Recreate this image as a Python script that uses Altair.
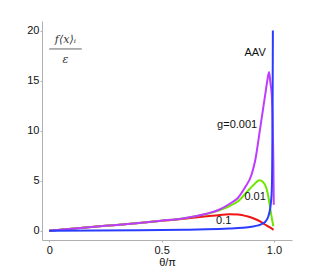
import altair as alt
import pandas as pd

# g = 0.001 (purple)
theta_g0001 = [0, 0.1, 0.2, 0.3, 0.4, 0.5, 0.6, 0.65, 0.7, 0.75, 0.8, 0.84, 0.87, 0.9, 0.916,
               0.938, 0.96, 0.97, 0.978, 0.984, 0.99, 0.994, 0.997, 0.999]
val_g0001 = [0, 0.19, 0.39, 0.58, 0.78, 1.0, 1.25, 1.45, 1.7, 2.05, 2.65, 3.3, 4.3, 5.6, 7.0,
             10.2, 13.5, 15.0, 15.9, 14.8, 13.6, 11.0, 7.0, 2.6]

# g = 0.01 (green)
theta_g001 = [0, 0.1, 0.2, 0.3, 0.4, 0.5, 0.6, 0.65, 0.7, 0.75, 0.8, 0.84, 0.88, 0.91, 0.935,
              0.95, 0.967, 0.975, 0.982, 0.99, 0.997]
val_g001 = [0, 0.19, 0.39, 0.58, 0.78, 1.0, 1.25, 1.45, 1.68, 2.0, 2.45, 2.95, 3.9, 4.6, 5.05,
            4.9, 4.2, 3.4, 2.4, 1.3, 0.45]

# g = 0.1 (red)
theta_g01 = [0, 0.1, 0.2, 0.3, 0.4, 0.5, 0.6, 0.7, 0.76, 0.8, 0.84, 0.88, 0.91, 0.94, 0.96,
             0.98, 0.998]
val_g01 = [0, 0.19, 0.39, 0.58, 0.78, 0.99, 1.2, 1.45, 1.58, 1.64, 1.63, 1.45, 1.22, 0.9, 0.62,
           0.35, 0.08]

# AAV (blue)
theta_aav = [0, 0.2, 0.4, 0.6, 0.7, 0.8, 0.86, 0.9, 0.93, 0.95, 0.965, 0.975, 0.982, 0.987,
             0.99, 0.992, 0.993, 0.994, 0.995]
val_aav = [0.0, 0.02, 0.05, 0.1, 0.14, 0.22, 0.3, 0.4, 0.53, 0.72, 1.0, 1.45, 2.1, 3.0,
           4.0, 6.5, 10.0, 14.0, 20.05]

series_colors = ["#f01414", "#6ee600", "#be3cff", "#2a3cff"]

label_text = ["AAV", "g=0.001", "0.01", "0.1"]
label_theta = [0.916, 0.836, 0.916, 0.776]
label_val = [17.8, 10.6, 3.4, 0.97]

X_DOM = [-0.032, 1.08]
Y_DOM = [-0.93, 21]

xs = alt.Scale(domain=X_DOM, nice=False, zero=False)
ys = alt.Scale(domain=Y_DOM, nice=False, zero=False)


def line_layer(th, vals, color, with_axes=False):
    df = pd.DataFrame({"theta": th, "val": vals, "order": list(range(len(th)))})
    if with_axes:
        xenc = alt.X("theta:Q", scale=xs, title="θ/π",
                     axis=alt.Axis(values=[0, 0.5, 1.0],
                                   labelExpr="datum.value == 0 ? '0' : format(datum.value, '.1f')"))
        yenc = alt.Y("val:Q", scale=ys, title=None,
                     axis=alt.Axis(values=[0, 5, 10, 15, 20]))
    else:
        xenc = alt.X("theta:Q", scale=xs)
        yenc = alt.Y("val:Q", scale=ys)
    return alt.Chart(df).mark_line(color=color, strokeWidth=2, clip=True,
                                   interpolate="monotone").encode(
        x=xenc, y=yenc, order="order:Q")


layers = [
    line_layer(theta_g01, val_g01, series_colors[0], with_axes=True),
    line_layer(theta_g001, val_g001, series_colors[1]),
    line_layer(theta_g0001, val_g0001, series_colors[2]),
    line_layer(theta_aav, val_aav, series_colors[3]),
]

lab_df = pd.DataFrame({"text": label_text, "theta": label_theta, "val": label_val})
labels = alt.Chart(lab_df).mark_text(font="Liberation Sans", fontSize=11, color="#111111",
                                     align="center", baseline="middle").encode(
    x=alt.X("theta:Q", scale=xs), y=alt.Y("val:Q", scale=ys), text="text:N")

# y-axis quantity label drawn as a fraction inside the plot
frac_df = pd.DataFrame({"t1": [0.0], "t2": [0.145], "v": [18.2]})
frac_bar = alt.Chart(frac_df).mark_rule(color="#666666", strokeWidth=1).encode(
    x=alt.X("t1:Q", scale=xs), x2="t2:Q", y=alt.Y("v:Q", scale=ys))
num_df = pd.DataFrame({"text": ["f⟨x⟩ᵢ", "ε"], "theta": [0.072, 0.072], "val": [19.1, 17.1]})
frac_text = alt.Chart(num_df).mark_text(font="DejaVu Serif", fontStyle="italic", fontSize=11,
                                        color="#333333", align="center", baseline="middle").encode(
    x=alt.X("theta:Q", scale=xs), y=alt.Y("val:Q", scale=ys), text="text:N")

chart = alt.layer(*layers, labels, frac_bar, frac_text).properties(
    width=250, height=219,
    autosize=alt.AutoSizeParams(type="none"),
    padding={"left": 34, "top": 13, "right": 14, "bottom": 26},
).configure_view(stroke=None).configure_axis(
    grid=False,
    domainColor="#b0b0b0",
    tickColor="#b0b0b0",
    tickSize=2,
    labelFont="Liberation Sans",
    labelFontSize=11,
    labelColor="#111111",
    titleFont="Liberation Sans",
    titleFontSize=11,
    titleFontWeight="normal",
    titleColor="#111111",
).configure_axisY(labelPadding=1).configure_axisX(labelPadding=2, titlePadding=1)

chart.save("out.html", embed_options={"renderer": "svg", "actions": False})
